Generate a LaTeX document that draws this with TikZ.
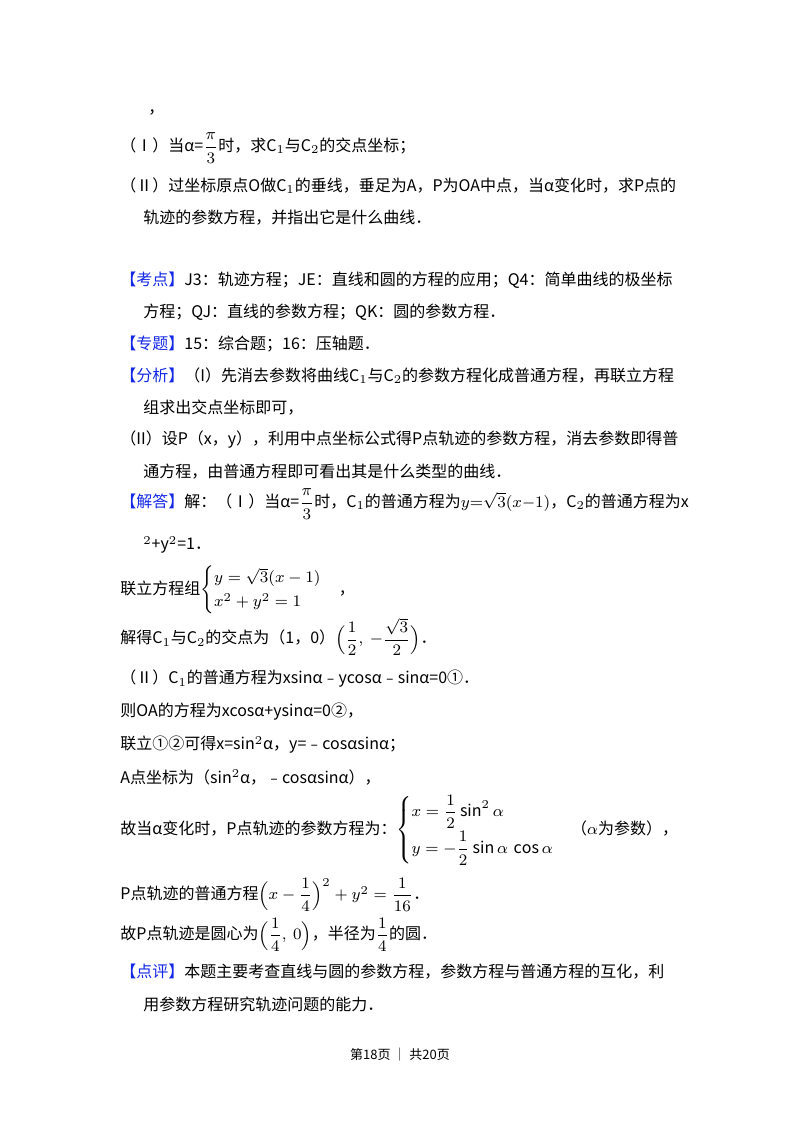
\documentclass[tikz,border=0pt]{standalone}
\usepackage{fontspec}
\usepackage{amsmath}
\setmainfont{Noto Sans CJK SC}
\definecolor{kb}{RGB}{20,40,230}
\begin{document}
\begin{tikzpicture}[x=0.5pt,y=-0.5pt,
  t/.style={anchor=west,inner sep=0pt,font=\fontsize{8}{10}\selectfont},
  lab/.style={text=kb}]
\useasboundingbox (0,0) rectangle (800,1132);
\fill[white] (0,0) rectangle (800,1132);
\newcommand{\kb}[1]{\textcolor{kb}{#1}}
\node[t] (l0) at (148,112) {，};
\node[t] (l1) at (120,148) {（Ⅰ）当α=$\dfrac{\pi}{3}$时，求C$_1$与C$_2$的交点坐标；};
\node[t] (l2) at (120,186) {（Ⅱ）过坐标原点O做C$_1$的垂线，垂足为A，P为OA中点，当α变化时，求P点的};
\node[t] (l3) at (143,218) {轨迹的参数方程，并指出它是什么曲线．};
\node[t] (l4) at (120,280) {\kb{【考点】}J3：轨迹方程；JE：直线和圆的方程的应用；Q4：简单曲线的极坐标};
\node[t] (l5) at (143,312) {方程；QJ：直线的参数方程；QK：圆的参数方程．};
\node[t] (l6) at (120,344) {\kb{【专题】}15：综合题；16：压轴题．};
\node[t] (l7) at (120,376) {\kb{【分析】}（I）先消去参数将曲线C$_1$与C$_2$的参数方程化成普通方程，再联立方程};
\node[t] (l8) at (143,408) {组求出交点坐标即可，};
\node[t] (l9) at (120,440) {（II）设P（x，y），利用中点坐标公式得P点轨迹的参数方程，消去参数即得普};
\node[t] (l10) at (143,472) {通方程，由普通方程即可看出其是什么类型的曲线．};
\node[t] (l11) at (120,504) {\kb{【解答】}解：（Ⅰ）当α=$\dfrac{\pi}{3}$时，C$_1$的普通方程为$y{=}\sqrt{3}(x{-}1)$，C$_2$的普通方程为x};
\node[t] (l12) at (143,545) {$^2$+y$^2$=1．};
\node[t] (l13) at (120,590) {联立方程组$\begin{cases} y=\sqrt{3}(x-1)\\ x^2+y^2=1\end{cases}$，};
\node[t] (l14) at (120,637) {解得C$_1$与C$_2$的交点为（1，0）$\Bigl(\dfrac12,\ -\dfrac{\sqrt3}{2}\Bigr)$．};
\node[t] (l15) at (120,679) {（Ⅱ）C$_1$的普通方程为xsinα﹣ycosα﹣sinα=0①．};
\node[t] (l16) at (120,712) {则OA的方程为xcosα+ysinα=0②，};
\node[t] (l17) at (120,745) {联立①②可得x=sin$^2$α，y=﹣cosαsinα；};
\node[t] (l18) at (120,777) {A点坐标为（sin$^2$α，﹣cosαsinα），};
\node[t] (l19) at (120,830) {故当α变化时，P点轨迹的参数方程为：$\begin{cases} x=\dfrac12\sin^2\alpha\\[4pt] y=-\dfrac12\sin\alpha\,\cos\alpha\end{cases}$（$\alpha$为参数），};
\node[t] (l20) at (120,895) {P点轨迹的普通方程$\Bigl(x-\dfrac14\Bigr)^2+y^2=\dfrac1{16}$．};
\node[t] (l21) at (120,935) {故P点轨迹是圆心为$\Bigl(\dfrac14,\ 0\Bigr)$，半径为$\dfrac14$的圆．};
\node[t] (l22) at (120,972) {\kb{【点评】}本题主要考查直线与圆的参数方程，参数方程与普通方程的互化，利};
\node[t] (l23) at (143,1004) {用参数方程研究轨迹问题的能力．};
\node[inner sep=0pt,font=\fontsize{6.5}{8}\selectfont] (ft) at (400,1055) {第18页 ｜ 共20页};
\end{tikzpicture}
\end{document}
